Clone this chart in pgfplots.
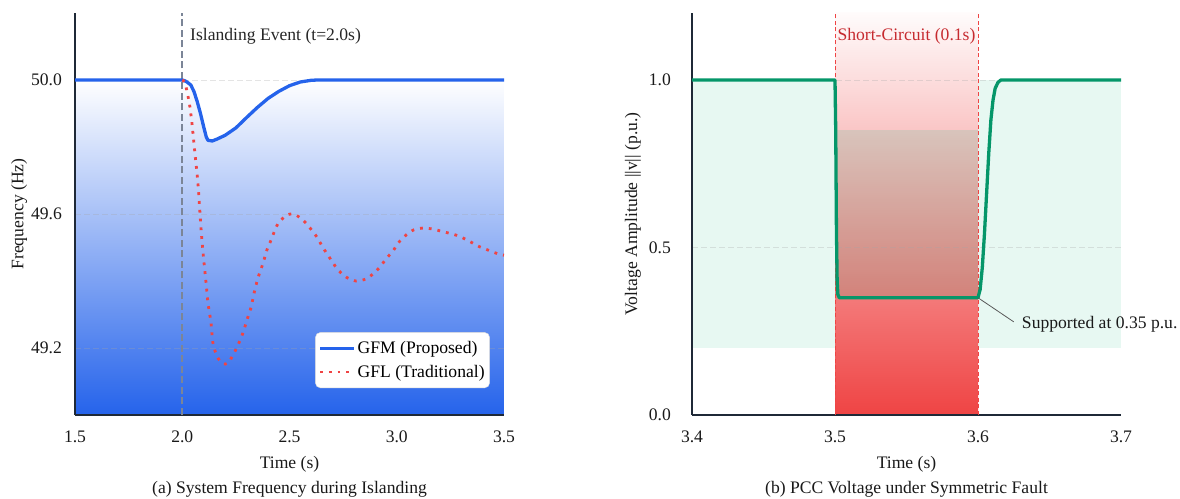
\documentclass[border=0pt]{standalone}
\usepackage{pgfplots}
\pgfplotsset{compat=1.18}
\usepackage{fontspec}
\setmainfont{Liberation Serif}
\definecolor{gfm}{HTML}{2563EB}
\definecolor{gfl}{HTML}{EF4444}
\definecolor{vgreen}{HTML}{059669}
\definecolor{mint}{HTML}{10B981}
\definecolor{axisdark}{HTML}{1F2937}
\definecolor{scred}{HTML}{C62A2F}
\definecolor{evgray}{HTML}{7B8597}
\newcommand{\fs}{\fontsize{17.6}{20}\selectfont}
\pgfplotsset{
  mystyle/.style={
    scale only axis, width=429pt, height=402pt,
    set layers, clip=false,
    axis x line*=bottom, axis y line*=left,
    axis line style={draw=axisdark, line width=1.6pt},
    major tick length=0pt,
    ymajorgrids, grid style={dash pattern=on 6pt off 3pt, gray!70, opacity=0.3, line width=0.8pt},
    tick label style={font=\fs, text=black!90},
    label style={font=\fs, text=black!90},
    /pgf/number format/assume math mode=true,
    /pgf/number format/fixed, /pgf/number format/fixed zerofill, /pgf/number format/precision=1,
    xticklabel style={anchor=center, yshift=-22pt},
    yticklabel style={anchor=east, inner sep=0pt},
    xlabel style={at={(axis description cs:0.5,0)}, anchor=center, yshift=-49pt},
    legend image code/.code={\draw[#1] (0pt,0pt) -- (34pt,0pt);},
  }
}
\begin{document}
\begin{tikzpicture}
% ---------------- Left panel ----------------
\begin{axis}[mystyle, at={(75pt,83pt)}, anchor=south west,
  xmin=1.5, xmax=3.5, ymin=49.0, ymax=50.2,
  xtick={1.5,2.0,2.5,3.0,3.5}, ytick={49.2,49.6,50.0},
  yticklabel style={xshift=-13pt},
  xlabel={Time (s)}, ylabel={Frequency (Hz)},
  ylabel style={at={(axis description cs:-0.13,0.5)}, anchor=center, rotate=0},
  legend style={at={(0.967,0.067)}, anchor=south east, draw=black!15, rounded corners=5pt,
    fill=white, font=\fs, inner xsep=3pt, inner ysep=7pt, row sep=6pt},
  legend cell align=left]
\addplot[forget plot, on layer=axis background, draw=none, top color=white, bottom color=gfm]
  coordinates {(1.5,50) (2.0,50) (2.01,49.998) (2.02,49.995) (2.04,49.985) (2.055,49.965) (2.07,49.935)
  (2.085,49.9) (2.1,49.86) (2.112,49.83) (2.12,49.82) (2.14,49.818) (2.16,49.823) (2.2,49.835)
  (2.25,49.857) (2.3,49.888) (2.35,49.918) (2.4,49.945) (2.45,49.966) (2.5,49.983) (2.55,49.994)
  (2.6,49.999) (2.63,50) (3.5,50) (3.5,49.0) (1.5,49.0)} -- cycle;
\addplot[forget plot, evgray, line width=1.8pt, dash pattern=on 7pt off 3.5pt] coordinates {(2.0,49.0) (2.0,50.2)};
\addplot[gfm, line width=3.3pt, line join=round]
  coordinates {(1.5,50) (2.0,50) (2.01,49.998) (2.02,49.995) (2.04,49.985) (2.055,49.965) (2.07,49.935)
  (2.085,49.9) (2.1,49.86) (2.112,49.83) (2.12,49.82) (2.14,49.818) (2.16,49.823) (2.2,49.835)
  (2.25,49.857) (2.3,49.888) (2.35,49.918) (2.4,49.945) (2.45,49.966) (2.5,49.983) (2.55,49.994)
  (2.6,49.999) (2.63,50) (3.5,50)};
\addlegendentry{GFM (Proposed)}
\addplot[gfl, line width=2.8pt, dash pattern=on 2.8pt off 6pt, smooth, tension=0.4]
  coordinates {(2.0,50.0) (2.013,49.991) (2.033,49.931) (2.045,49.872) (2.059,49.782) (2.073,49.693)
  (2.087,49.561) (2.097,49.484) (2.111,49.394) (2.120,49.334) (2.134,49.275) (2.143,49.215)
  (2.162,49.175) (2.185,49.155) (2.2,49.152) (2.213,49.155) (2.237,49.179) (2.260,49.209) (2.283,49.245)
  (2.302,49.284) (2.321,49.322) (2.335,49.364) (2.353,49.409) (2.376,49.452) (2.395,49.493)
  (2.414,49.522) (2.432,49.552) (2.451,49.576) (2.488,49.597) (2.51,49.6) (2.530,49.597) (2.563,49.582)
  (2.596,49.558) (2.628,49.531) (2.652,49.504) (2.675,49.481) (2.703,49.454) (2.726,49.433)
  (2.768,49.410) (2.810,49.400) (2.857,49.406) (2.889,49.421) (2.922,49.442) (2.950,49.466)
  (2.983,49.490) (3.006,49.513) (3.043,49.537) (3.080,49.553) (3.122,49.558) (3.169,49.555)
  (3.216,49.547) (3.262,49.540) (3.304,49.530) (3.346,49.516) (3.383,49.503) (3.435,49.490)
  (3.472,49.481) (3.5,49.477)};
\addlegendentry{GFL (Traditional)}
\node[anchor=west, inner sep=0pt, font=\fs, text=black!85] at (axis cs:2.036,50.131) {Islanding Event (t=2.0s)};
\node[anchor=center, font=\fs, text=black!90] at (axis description cs:0.5,0) [yshift=-74pt] {(a) System Frequency during Islanding};
\end{axis}
% ---------------- Right panel ----------------
\begin{axis}[mystyle, at={(692pt,83pt)}, anchor=south west,
  xmin=3.4, xmax=3.7, ymin=0, ymax=1.2,
  xtick={3.4,3.5,3.6,3.7}, ytick={0.0,0.5,1.0},
  yticklabel style={xshift=-21pt},
  xlabel={Time (s)}, ylabel={Voltage Amplitude ||v|| (p.u.)},
  ylabel style={at={(axis description cs:-0.138,0.5)}, anchor=center, rotate=0}]
\addplot[forget plot, on layer=axis background, draw=none, fill=mint, fill opacity=0.1]
  coordinates {(3.4,0.2) (3.7,0.2) (3.7,1.0) (3.4,1.0)} -- cycle;
\addplot[forget plot, on layer=axis background, draw=none, top color=gfl!2, bottom color=gfl]
  coordinates {(3.5,0) (3.6,0) (3.6,1.2) (3.5,1.2)} -- cycle;
\addplot[forget plot, on layer=axis background, draw=none, fill=mint, fill opacity=0.14]
  coordinates {(3.5,0.35) (3.6,0.35) (3.6,0.85) (3.5,0.85)} -- cycle;
\addplot[gfl, line width=0.9pt, dash pattern=on 4pt off 2.5pt] coordinates {(3.5,0) (3.5,1.2)};
\addplot[gfl, line width=0.9pt, dash pattern=on 4pt off 2.5pt] coordinates {(3.6,0) (3.6,1.2)};
\addplot[vgreen, line width=3.3pt, line join=round]
  coordinates {(3.4,1) (3.5,1) (3.5005,0.85) (3.501,0.55) (3.5015,0.4) (3.502,0.36) (3.503,0.35)
  (3.6,0.35) (3.6015,0.375) (3.603,0.44) (3.6045,0.54) (3.606,0.66) (3.6075,0.78) (3.609,0.88)
  (3.6105,0.94) (3.612,0.975) (3.614,0.993) (3.616,1.0) (3.7,1.0)};
\draw[black!65, line width=0.8pt] (axis cs:3.6,0.35) -- (axis cs:3.625,0.278);
\node[anchor=west, inner sep=0pt, font=\fs, text=black!90] at (axis cs:3.6306,0.272) {Supported at 0.35 p.u.};
\node[anchor=center, font=\fs, text=scred] at (axis cs:3.55,1.131) {Short-Circuit (0.1s)};
\node[anchor=center, font=\fs, text=black!90] at (axis description cs:0.5,0) [yshift=-74pt] {(b) PCC Voltage under Symmetric Fault};
\end{axis}
\pgfresetboundingbox
\useasboundingbox (0,0) rectangle (1180pt,498pt);
\end{tikzpicture}
\end{document}
